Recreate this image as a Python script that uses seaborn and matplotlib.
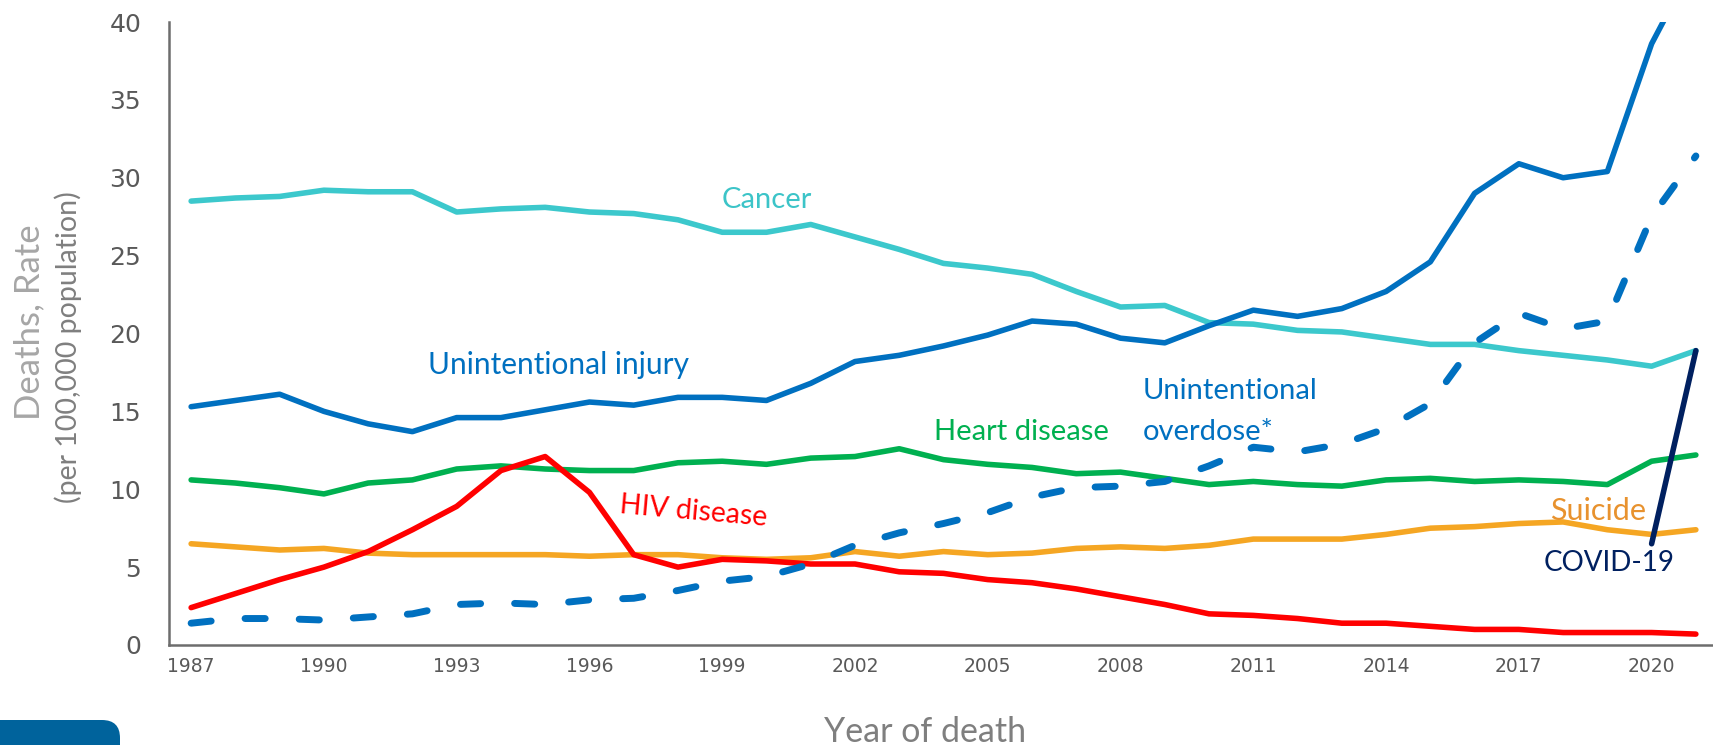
import matplotlib
matplotlib.use('Agg')
import matplotlib.pyplot as plt
import matplotlib.patches as mpatches
import seaborn as sns
import pandas as pd

years = list(range(1987, 2022))

cancer = [28.5, 28.7, 28.8, 29.2, 29.1, 29.1, 27.8, 28.0, 28.1, 27.8, 27.7, 27.3, 26.5, 26.5,
          27.0, 26.2, 25.4, 24.5, 24.2, 23.8, 22.7, 21.7, 21.8, 20.7, 20.6, 20.2, 20.1, 19.7,
          19.3, 19.3, 18.9, 18.6, 18.3, 17.9, 18.9]
unint_injury = [15.3, 15.7, 16.1, 15.0, 14.2, 13.7, 14.6, 14.6, 15.1, 15.6, 15.4, 15.9, 15.9, 15.7,
                16.8, 18.2, 18.6, 19.2, 19.9, 20.8, 20.6, 19.7, 19.4, 20.5, 21.5, 21.1, 21.6, 22.7,
                24.6, 29.0, 30.9, 30.0, 30.4, 38.6, 44.0]
overdose = [1.4, 1.7, 1.7, 1.6, 1.8, 2.0, 2.6, 2.7, 2.6, 2.9, 3.0, 3.5, 4.1, 4.4,
            5.2, 6.4, 7.2, 7.8, 8.5, 9.5, 10.1, 10.2, 10.5, 11.5, 12.7, 12.4, 12.9, 13.9,
            15.5, 19.4, 21.3, 20.3, 20.8, 27.5, 31.4]
heart = [10.6, 10.4, 10.1, 9.7, 10.4, 10.6, 11.3, 11.5, 11.3, 11.2, 11.2, 11.7, 11.8, 11.6,
         12.0, 12.1, 12.6, 11.9, 11.6, 11.4, 11.0, 11.1, 10.7, 10.3, 10.5, 10.3, 10.2, 10.6,
         10.7, 10.5, 10.6, 10.5, 10.3, 11.8, 12.2]
hiv = [2.4, 3.3, 4.2, 5.0, 6.0, 7.4, 8.9, 11.2, 12.1, 9.8, 5.8, 5.0, 5.5, 5.4,
       5.2, 5.2, 4.7, 4.6, 4.2, 4.0, 3.6, 3.1, 2.6, 2.0, 1.9, 1.7, 1.4, 1.4,
       1.2, 1.0, 1.0, 0.8, 0.8, 0.8, 0.7]
suicide = [6.5, 6.3, 6.1, 6.2, 5.9, 5.8, 5.8, 5.8, 5.8, 5.7, 5.8, 5.8, 5.6, 5.5,
           5.6, 6.0, 5.7, 6.0, 5.8, 5.9, 6.2, 6.3, 6.2, 6.4, 6.8, 6.8, 6.8, 7.1,
           7.5, 7.6, 7.8, 7.9, 7.4, 7.1, 7.4]
covid_years = [2020, 2021]
covid = [6.5, 18.9]

tick_years = list(range(1987, 2022, 3))

sns.set_theme(style='white')
plt.rcParams['font.family'] = ['Lato', 'DejaVu Sans']

fig = plt.figure(figsize=(17.13, 7.45), dpi=100)
ax = fig.add_axes([169 / 1713, 100 / 745, 1549 / 1713, 623 / 745])

lw = 4.0
series = [
    (cancer, '#3CC8CC'),
    (unint_injury, '#0070C0'),
    (heart, '#00B050'),
    (suicide, '#F5A623'),
    (hiv, '#FF0000'),
]
for vals, col in series:
    df = pd.DataFrame({'year': years, 'rate': vals})
    sns.lineplot(data=df, x='year', y='rate', color=col, lw=lw, ax=ax,
                 solid_capstyle='round', solid_joinstyle='round')

df_od = pd.DataFrame({'year': years, 'rate': overdose})
sns.lineplot(data=df_od, x='year', y='rate', color='#0070C0', lw=5.0, ax=ax)
od_line = ax.lines[-1]
od_line.set_linestyle((0, (2.9, 4.9)))
od_line.set_dash_capstyle('round')
od_line.set_dash_joinstyle('round')

df_cv = pd.DataFrame({'year': covid_years, 'rate': covid})
sns.lineplot(data=df_cv, x='year', y='rate', color='#002060', lw=lw, ax=ax,
             solid_capstyle='round')

ax.set_xlim(1986.5, 2021.5)
ax.set_ylim(0, 40)
ax.set_yticks(range(0, 41, 5))
ax.set_xticks(tick_years)
ax.set_xticklabels([str(y) for y in tick_years], family=['Liberation Sans Narrow', 'DejaVu Sans'],
                   fontsize=13.5, color='#595959')
ax.set_xticks([y - 0.5 for y in years + [2022]], minor=True)
ax.tick_params(axis='x', which='major', length=0, pad=9)
ax.tick_params(axis='x', which='minor', length=6, width=1.8, color='#6D6D6D', direction='out')
ax.tick_params(axis='y', which='major', length=7, width=1.8, color='#6D6D6D', direction='out',
               pad=13, labelsize=18, labelcolor='#595959')
for lbl in ax.get_yticklabels():
    lbl.set_family(['DejaVu Sans'])

sns.despine(ax=ax)
for side in ['left', 'bottom']:
    ax.spines[side].set_color('#6D6D6D')
    ax.spines[side].set_linewidth(1.8)
ax.set_xlabel('')
ax.set_ylabel('')
ax.grid(False)

# inline labels
ax.text(2000, 28.6, 'Cancer', color='#3CC4C8', fontsize=21, ha='center', va='center')
ax.text(1995.3, 18.0, 'Unintentional injury', color='#0070C0', fontsize=21.5, ha='center', va='center')
ax.text(2005.75, 13.7, 'Heart disease', color='#00B050', fontsize=21, ha='center', va='center')
ax.text(2008.5, 16.3, 'Unintentional', color='#0070C0', fontsize=21, ha='left', va='center')
ax.text(2008.5, 13.7, 'overdose*', color='#0070C0', fontsize=21, ha='left', va='center')
ax.text(1998.35, 8.6, 'HIV disease', color='#FF0000', fontsize=20.5, ha='center', va='center',
        rotation=-5)
ax.text(2018.8, 8.6, 'Suicide', color='#E8922E', fontsize=22, ha='center', va='center')
ax.text(2019.05, 5.26, 'COVID-19', color='#002060', fontsize=20, ha='center', va='center')

# axis titles
fig.text(29.5 / 1713, 1 - 322 / 745, 'Deaths, Rate', rotation=90, ha='center', va='center',
         fontsize=25, color='#A6A6A6')
fig.text(68 / 1713, 1 - 347 / 745, '(per 100,000 population)', rotation=90, ha='center',
         va='center', fontsize=20.5, color='#7F7F7F')
fig.text(925 / 1713, 1 - 732 / 745, 'Year of death', ha='center', va='center',
         fontsize=24.5, color='#7F7F7F')

# cropped logo tab in the lower left corner
logo = mpatches.FancyBboxPatch((-30, -40), 150, 65, boxstyle='round,pad=0,rounding_size=18',
                               transform=None, facecolor='#00639C', edgecolor='none')
fig.patches.append(logo)

fig.savefig('out.png', dpi=100)
